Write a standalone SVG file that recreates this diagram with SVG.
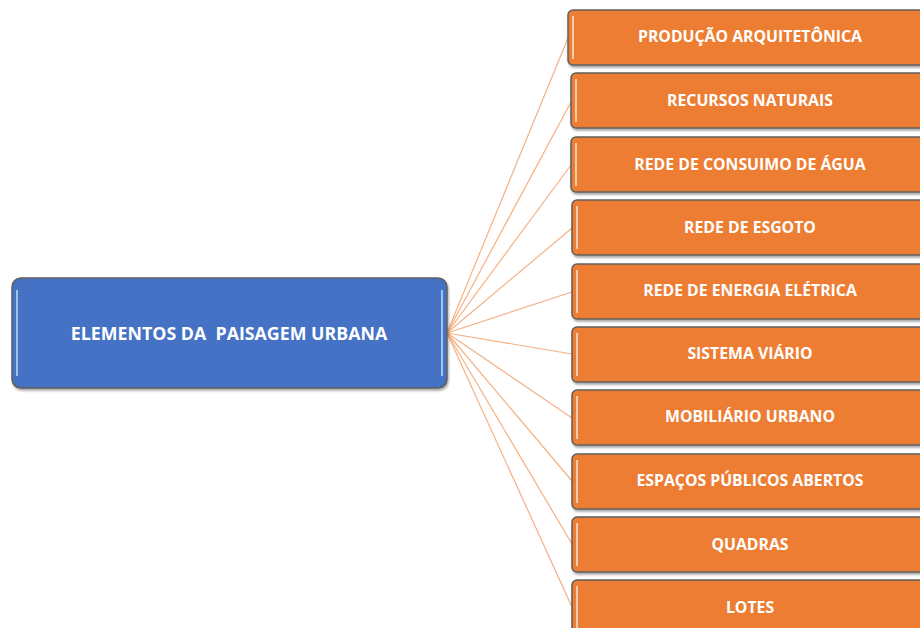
<svg xmlns="http://www.w3.org/2000/svg" width="920" height="628" viewBox="0 0 920 628">
<defs>
<style>
.o{fill:#ED7D31;stroke:#5f5f5f;stroke-width:1.5}
.b{fill:#4472C4;stroke:#5f5f5f;stroke-width:1.5}
.hl{stroke:#F8CBAD;stroke-width:2;fill:none}
.hb{stroke:#9DC3E6;stroke-width:2;fill:none}
.t{font-family:"Open Sans","Liberation Sans",sans-serif;font-weight:bold;fill:#FFFFFF;text-anchor:middle;dominant-baseline:central;white-space:pre}
.c{stroke:#F4B183;stroke-width:1.2;fill:none}
</style>
<filter id="sh" x="-5%" y="-10%" width="110%" height="130%">
<feDropShadow dx="1" dy="2" stdDeviation="1.2" flood-color="#000" flood-opacity="0.35"/>
</filter>
</defs>
<rect width="920" height="628" fill="#FFFFFF"/>
<g id="connectors">
<line class="c" x1="447" y1="333" x2="568" y2="38"/>
<line class="c" x1="447" y1="333" x2="571" y2="102"/>
<line class="c" x1="447" y1="333" x2="571" y2="165"/>
<line class="c" x1="447" y1="333" x2="572" y2="228"/>
<line class="c" x1="447" y1="333" x2="572" y2="292"/>
<line class="c" x1="447" y1="333" x2="572" y2="354"/>
<line class="c" x1="447" y1="333" x2="572" y2="418"/>
<line class="c" x1="447" y1="333" x2="572" y2="481"/>
<line class="c" x1="447" y1="333" x2="572" y2="544"/>
<line class="c" x1="447" y1="333" x2="572" y2="607"/>
</g>
<g id="root">
<rect class="b" x="12" y="278" width="435" height="110" rx="9" filter="url(#sh)"/>
<line class="hb" x1="17" y1="290" x2="17" y2="376"/>
<line class="hb" x1="442" y1="290" x2="442" y2="376"/>
<text class="t" x="229" y="333" font-size="17.8" xml:space="preserve">ELEMENTOS DA  PAISAGEM URBANA</text>
</g>
<g id="n1">
<rect class="o" x="568" y="10" width="362" height="55" rx="5" filter="url(#sh)"/>
<line class="hl" x1="573" y1="16" x2="573" y2="59"/>
<text class="t" x="750" y="36" font-size="15.8">PRODUÇÃO ARQUITETÔNICA</text>
</g>
<g id="n2">
<rect class="o" x="571" y="73" width="362" height="55" rx="5" filter="url(#sh)"/>
<line class="hl" x1="576" y1="79" x2="576" y2="122"/>
<text class="t" x="750" y="100" font-size="15.8">RECURSOS NATURAIS</text>
</g>
<g id="n3">
<rect class="o" x="571" y="137" width="362" height="55" rx="5" filter="url(#sh)"/>
<line class="hl" x1="576" y1="143" x2="576" y2="186"/>
<text class="t" x="750" y="164" font-size="15.8">REDE DE CONSUIMO DE ÁGUA</text>
</g>
<g id="n4">
<rect class="o" x="572" y="200" width="362" height="55" rx="5" filter="url(#sh)"/>
<line class="hl" x1="577" y1="206" x2="577" y2="249"/>
<text class="t" x="750" y="227" font-size="15.8">REDE DE ESGOTO</text>
</g>
<g id="n5">
<rect class="o" x="572" y="264" width="362" height="55" rx="5" filter="url(#sh)"/>
<line class="hl" x1="577" y1="270" x2="577" y2="313"/>
<text class="t" x="750" y="290" font-size="15.8">REDE DE ENERGIA ELÉTRICA</text>
</g>
<g id="n6">
<rect class="o" x="572" y="327" width="362" height="55" rx="5" filter="url(#sh)"/>
<line class="hl" x1="577" y1="333" x2="577" y2="376"/>
<text class="t" x="750" y="353" font-size="15.8">SISTEMA VIÁRIO</text>
</g>
<g id="n7">
<rect class="o" x="572" y="390" width="362" height="55" rx="5" filter="url(#sh)"/>
<line class="hl" x1="577" y1="396" x2="577" y2="439"/>
<text class="t" x="750" y="416" font-size="15.8">MOBILIÁRIO URBANO</text>
</g>
<g id="n8">
<rect class="o" x="572" y="454" width="362" height="55" rx="5" filter="url(#sh)"/>
<line class="hl" x1="577" y1="460" x2="577" y2="503"/>
<text class="t" x="750" y="480" font-size="15.8">ESPAÇOS PÚBLICOS ABERTOS</text>
</g>
<g id="n9">
<rect class="o" x="572" y="517" width="362" height="55" rx="5" filter="url(#sh)"/>
<line class="hl" x1="577" y1="523" x2="577" y2="566"/>
<text class="t" x="750" y="544" font-size="15.8">QUADRAS</text>
</g>
<g id="n10">
<rect class="o" x="572" y="580" width="362" height="55" rx="5" filter="url(#sh)"/>
<line class="hl" x1="577" y1="586" x2="577" y2="629"/>
<text class="t" x="750" y="607" font-size="15.8">LOTES</text>
</g>
</svg>
